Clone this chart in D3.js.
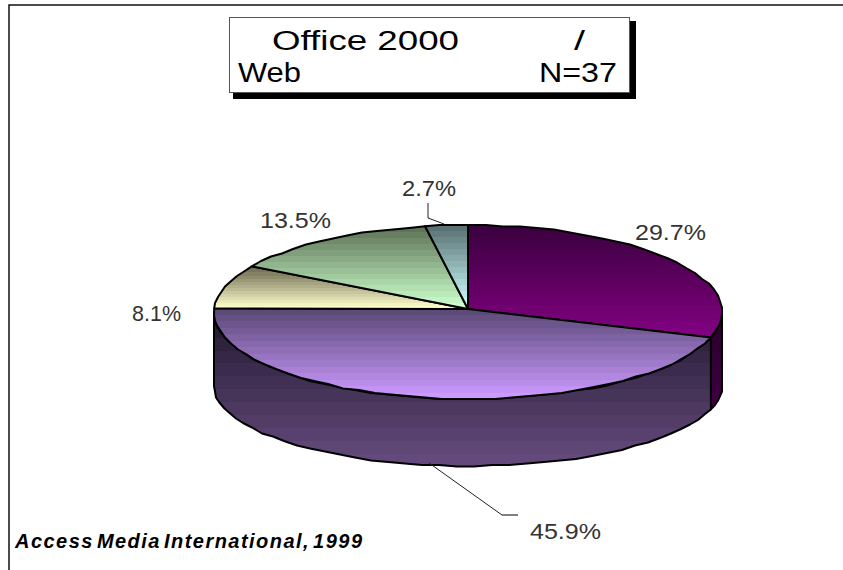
<!DOCTYPE html>
<html>
<head>
<meta charset="utf-8">
<script src="https://cdn.jsdelivr.net/npm/d3@7"></script>
<style>
html, body { margin: 0; padding: 0; background: #fff; }
svg { display: block; }
</style>
</head>
<body>
<div id="chart"></div>
<script>
var width = 843, height = 570;

// share of respondents, clockwise from 12 o'clock
var slices = ['a', 'b', 'c', 'd', 'e'];
var values = [29.7, 45.9, 8.1, 13.5, 2.7];
var labels = ['29.7%', '45.9%', '8.1%', '13.5%', '2.7%'];
var topDark = ['#3d0040', '#5c4a78', '#6e6a52', '#5f7558', '#5a7274'];
var topLight = ['#800080', '#cc99ff', '#ffffcc', '#ccffcc', '#ccffff'];
var title1 = 'Office 2000', title2 = 'Web', titleN = 'N=37';
var source = 'Access Media International, 1999';

// apex sits a little above the rim ellipse centre
var cx = 468, apexY = 309, cy = 312, rx = 254, ry = 87;
var cyLow = 386, ryLow = 80;

var svg = d3.select('#chart').append('svg')
    .attr('width', width)
    .attr('height', height);

svg.append('rect').attr('width', width).attr('height', height).attr('fill', '#fff');

var defs = svg.append('defs');

// stepped gradient, the source has visible banding
function bands(id, c0, c1, n) {
    var g = defs.append('linearGradient').attr('id', id)
        .attr('x1', 0).attr('y1', 0).attr('x2', 0).attr('y2', 1);
    var mix = d3.interpolateRgb(c0, c1);
    d3.range(n).forEach(function(i) {
        g.append('stop').attr('offset', i / n).attr('stop-color', mix(i / (n - 1)));
        g.append('stop').attr('offset', (i + 1) / n).attr('stop-color', mix(i / (n - 1)));
    });
}

var pie = d3.pie().sort(null).value(function(d) { return d; });
var arcs = pie(values);

function topPt(a) {
    return [cx + rx * Math.sin(a), cy - Math.cos(a) * ry];
}
function lowPt(a) {
    return [cx + rx * Math.sin(a), cyLow - Math.cos(a) * ryLow];
}
// light snapping, the original rim is a bit rough
function rim(a0, a1, fn) {
    var n = Math.max(2, Math.ceil((a1 - a0) / 0.07));
    return d3.range(n + 1).map(function(i) {
        var p = fn(a0 + (a1 - a0) * i / n);
        if (i == 0 || i == n) return p;
        return [Math.round(p[0]), Math.round(p[1] / 1.5) * 1.5];
    });
}
var line = d3.line();

// side wall, only the front half shows
var sides = [
    {a0: Math.PI / 2, a1: arcs[0].endAngle, id: 'side0', c0: '#260028', c1: '#3f0042'},
    {a0: arcs[0].endAngle, a1: Math.PI * 1.5, id: 'side1', c0: '#241a30', c1: '#644a7c'}
];
sides.forEach(function(s) {
    bands(s.id, s.c0, s.c1, 12);
    var pts = rim(s.a0, s.a1, topPt).concat(rim(s.a0, s.a1, lowPt).reverse());
    svg.append('path')
        .attr('d', line(pts) + 'Z')
        .attr('fill', 'url(#' + s.id + ')')
        .attr('stroke', '#000')
        .attr('stroke-width', 2)
        .attr('stroke-linejoin', 'round');
});

// top face
svg.selectAll('.slice').data(arcs).enter().append('path')
    .attr('class', 'slice')
    .each(function(d, i) { bands('top' + i, topDark[i], topLight[i], 14); })
    .attr('d', function(d) {
        return line([[cx, apexY]].concat(rim(d.startAngle, d.endAngle, topPt))) + 'Z';
    })
    .attr('fill', function(d, i) { return 'url(#top' + i + ')'; })
    .attr('stroke', '#000')
    .attr('stroke-width', 2)
    .attr('stroke-linejoin', 'round');

// leader lines
var leaders = [
    [[428, 203], [428, 218], [444, 224]],
    [[429, 463], [502, 515]]
];
svg.selectAll('.leader').data(leaders).enter().append('path')
    .attr('class', 'leader')
    .attr('d', line)
    .attr('fill', 'none')
    .attr('stroke', '#222')
    .attr('stroke-width', 1);
svg.append('path').attr('d', line([[502, 515], [518, 515]]))
    .attr('stroke', '#808080').attr('stroke-width', 2).attr('fill', 'none');

// value labels: left edge, baseline, drawn width
var labelPos = [[635, 240, 71], [530, 539, 71], [132, 321, 49], [260, 228, 71], [402, 196, 54]];
svg.selectAll('.val').data(labels).enter().append('text')
    .attr('class', 'val')
    .attr('x', function(d, i) { return labelPos[i][0]; })
    .attr('y', function(d, i) { return labelPos[i][1]; })
    .attr('textLength', function(d, i) { return labelPos[i][2]; })
    .attr('lengthAdjust', 'spacingAndGlyphs')
    .attr('font-family', '"Liberation Sans", Arial, sans-serif')
    .attr('font-size', 22)
    .attr('fill', '#333')
    .text(function(d) { return d; });

// frame
svg.append('path')
    .attr('d', line([[9, height], [9, 5], [width, 5]]))
    .attr('fill', 'none')
    .attr('stroke', '#111')
    .attr('stroke-width', 1.5);

// title box
svg.append('rect').attr('x', 233).attr('y', 21).attr('width', 403).attr('height', 78).attr('fill', '#000');
svg.append('rect').attr('x', 229.5).attr('y', 17.5).attr('width', 400).attr('height', 75)
    .attr('fill', '#fff').attr('stroke', '#555').attr('stroke-width', 1);

var titleFont = '"Liberation Sans", Arial, sans-serif';
function titleText(t, x, y, len) {
    svg.append('text')
        .attr('x', x).attr('y', y)
        .attr('font-family', titleFont)
        .attr('font-size', 27)
        .attr('fill', '#000')
        .attr('textLength', len)
        .attr('lengthAdjust', 'spacingAndGlyphs')
        .text(t);
}
titleText(title1, 272, 50, 187);
titleText('/', 574, 50, 11);
titleText(title2, 238, 82, 63);
titleText(titleN, 539, 82, 78);

// source note
svg.append('text')
    .attr('x', 15).attr('y', 548)
    .attr('font-family', titleFont)
    .attr('font-size', 20)
    .attr('font-weight', 'bold')
    .attr('font-style', 'italic')
    .attr('word-spacing', -4)
    .attr('textLength', 347)
    .attr('fill', '#000')
    .text(source);
</script>
</body>
</html>
